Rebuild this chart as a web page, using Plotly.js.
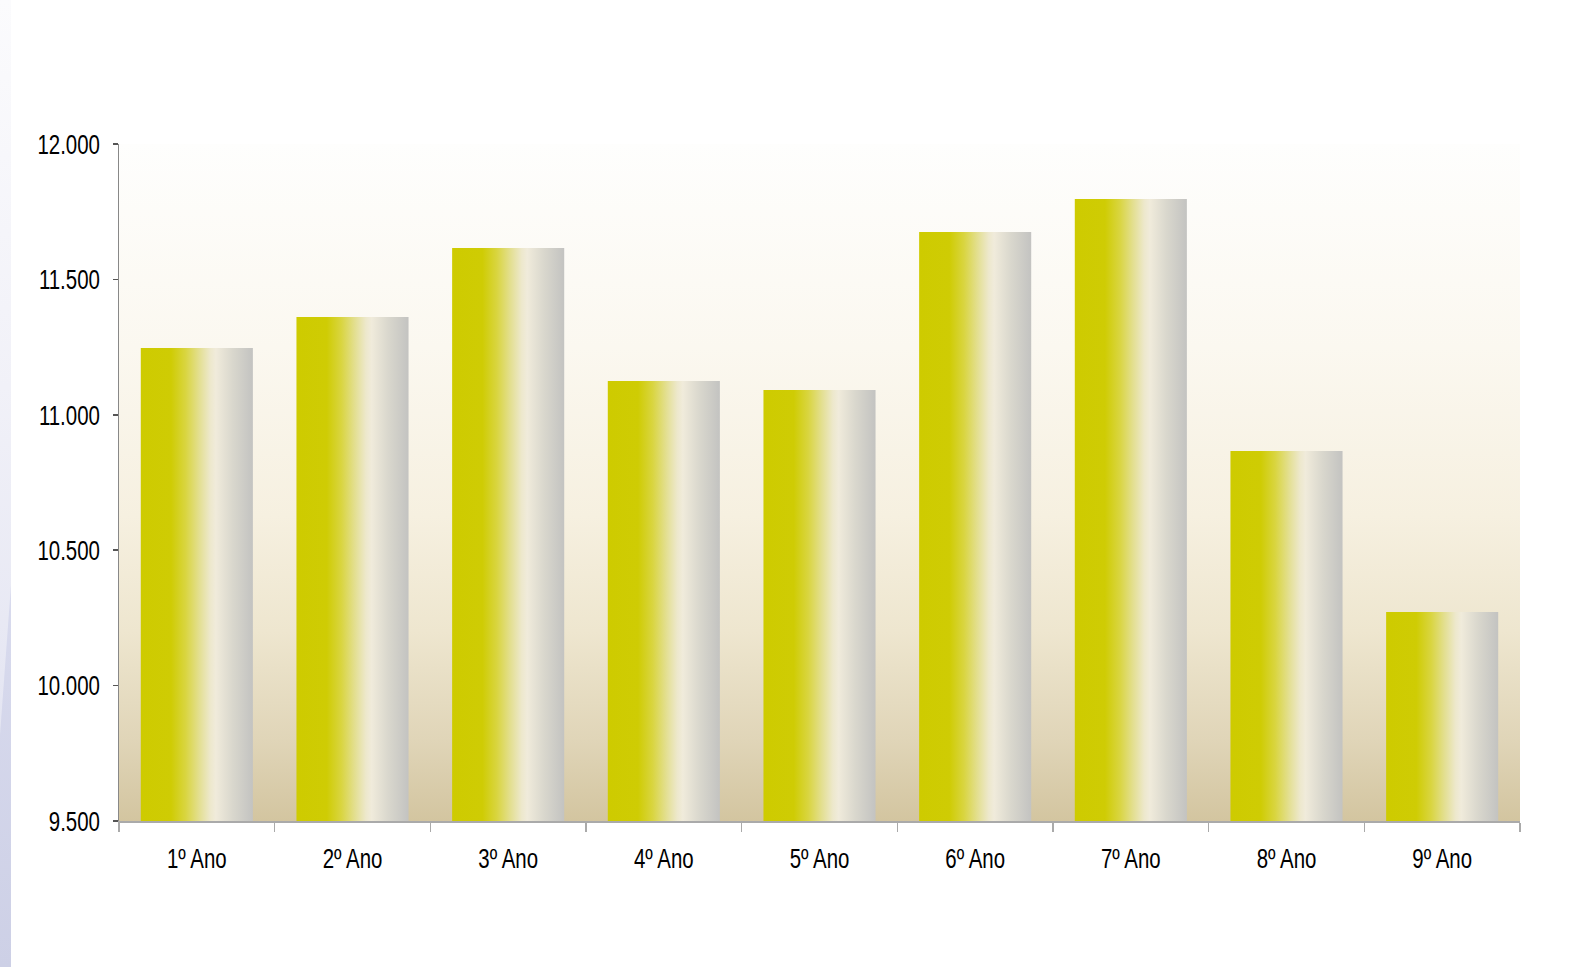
<!DOCTYPE html>
<html>
<head>
<meta charset="utf-8">
<script src="https://cdn.plot.ly/plotly-3.0.1.min.js"></script>
<style>
  html, body { margin: 0; padding: 0; background: #ffffff; }
  #wrap { position: relative; width: 1583px; height: 967px; overflow: hidden; }
  #strip1 { position: absolute; left: 0; top: 0; width: 11px; height: 967px;
    background: linear-gradient(to bottom, #fbfbfd 0%, #f1f1f8 40%, #e6e7f3 70%, #dcdeee 100%); }
  #strip2 { position: absolute; left: 0; top: 0; width: 11px; height: 967px;
    background: linear-gradient(to bottom, #d9dbee 60%, #cdd0e6 100%);
    clip-path: polygon(11px 585px, 11px 967px, 0px 967px, 0px 735px); }
  #chart { position: absolute; left: 0; top: 0; width: 1583px; height: 967px; }
</style>
</head>
<body>
<div id="wrap">
  <div id="strip1"></div>
  <div id="strip2"></div>
  <div id="chart"></div>
</div>
<script>
// ---- data ----
const categories = ["1º Ano", "2º Ano", "3º Ano", "4º Ano", "5º Ano", "6º Ano", "7º Ano", "8º Ano", "9º Ano"];
const values = [11247, 11361, 11616, 11125, 11092, 11675, 11797, 10866, 10272];
const yTickValues = [9500, 10000, 10500, 11000, 11500, 12000];

const FONT = "'Liberation Sans', Arial, sans-serif";
const NARROW = 0.73; // horizontal condensing to mimic a narrow face

const trace = {
  type: "bar",
  x: categories,
  y: values,
  base: 0,
  marker: { color: "#cfcc00", line: { width: 0 } },
  hoverinfo: "x+y"
};

const layout = {
  width: 1583,
  height: 967,
  margin: { l: 119, r: 63, t: 144, b: 146, pad: 0 },
  paper_bgcolor: "rgba(0,0,0,0)",
  plot_bgcolor: "#f3ecd8",
  bargap: 0.28,
  showlegend: false,
  font: { family: FONT, size: 28, color: "#000000" },
  xaxis: {
    type: "category",
    showgrid: false,
    zeroline: false,
    showline: true,
    linecolor: "#aaaaaa",
    linewidth: 2,
    ticks: "outside",
    tickson: "boundaries",
    ticklen: 9,
    tickwidth: 1.5,
    tickcolor: "#aaaaaa",
    ticklabelstandoff: 11,
    tickfont: { family: FONT, size: 28, color: "#000000" }
  },
  yaxis: {
    range: [9500, 12000],
    tickvals: yTickValues,
    tickformat: ",.0f",
    showgrid: false,
    zeroline: false,
    showline: true,
    linecolor: "#888888",
    linewidth: 1.5,
    ticks: "outside",
    ticklen: 5,
    tickwidth: 1.5,
    tickcolor: "#555555",
    ticklabelstandoff: 7,
    tickfont: { family: FONT, size: 28, color: "#000000" }
  },
  separators: ",."
};

function addGradients(gd) {
  const svg = gd.querySelector("svg.main-svg");
  if (!svg) return;
  const NS = "http://www.w3.org/2000/svg";
  let defs = svg.querySelector("defs");
  if (!defs) { defs = document.createElementNS(NS, "defs"); svg.insertBefore(defs, svg.firstChild); }

  function makeGrad(id, x2, y2, stops) {
    const g = document.createElementNS(NS, "linearGradient");
    g.setAttribute("id", id);
    g.setAttribute("x1", "0"); g.setAttribute("y1", "0");
    g.setAttribute("x2", x2); g.setAttribute("y2", y2);
    stops.forEach(s => {
      const st = document.createElementNS(NS, "stop");
      st.setAttribute("offset", s[0]);
      st.setAttribute("stop-color", s[1]);
      g.appendChild(st);
    });
    defs.appendChild(g);
  }

  makeGrad("barGrad", "1", "0", [
    ["0", "#cecb00"], ["0.27", "#cfcc04"], ["0.40", "#d9d540"], ["0.52", "#e3df90"],
    ["0.62", "#ede8cc"], ["0.67", "#f0ebdb"], ["0.82", "#d9d7cd"], ["1", "#c3c3c1"]
  ]);
  makeGrad("bgGrad", "0", "1", [
    ["0", "#fefefd"], ["0.3", "#fbf8f0"], ["0.55", "#f6f0e0"], ["0.72", "#eee6cf"],
    ["0.88", "#e0d5b8"], ["1", "#d3c5a0"]
  ]);

  gd.querySelectorAll(".barlayer .point path").forEach(p => {
    p.style.fill = "url(#barGrad)";
  });
  gd.querySelectorAll(".bglayer rect.bg").forEach(r => {
    r.style.fill = "url(#bgGrad)";
  });

  // condense tick label text horizontally around its anchor
  gd.querySelectorAll(".xtick text, .ytick text").forEach(t => {
    const x = parseFloat(t.getAttribute("x")) || 0;
    const tr = t.getAttribute("transform") || "";
    t.setAttribute("transform", tr + " translate(" + x + ",0) scale(" + NARROW + ",1) translate(" + (-x) + ",0)");
  });
}

Plotly.newPlot("chart", [trace], layout, { displayModeBar: false, staticPlot: true })
  .then(gd => addGradients(gd));
</script>
</body>
</html>
